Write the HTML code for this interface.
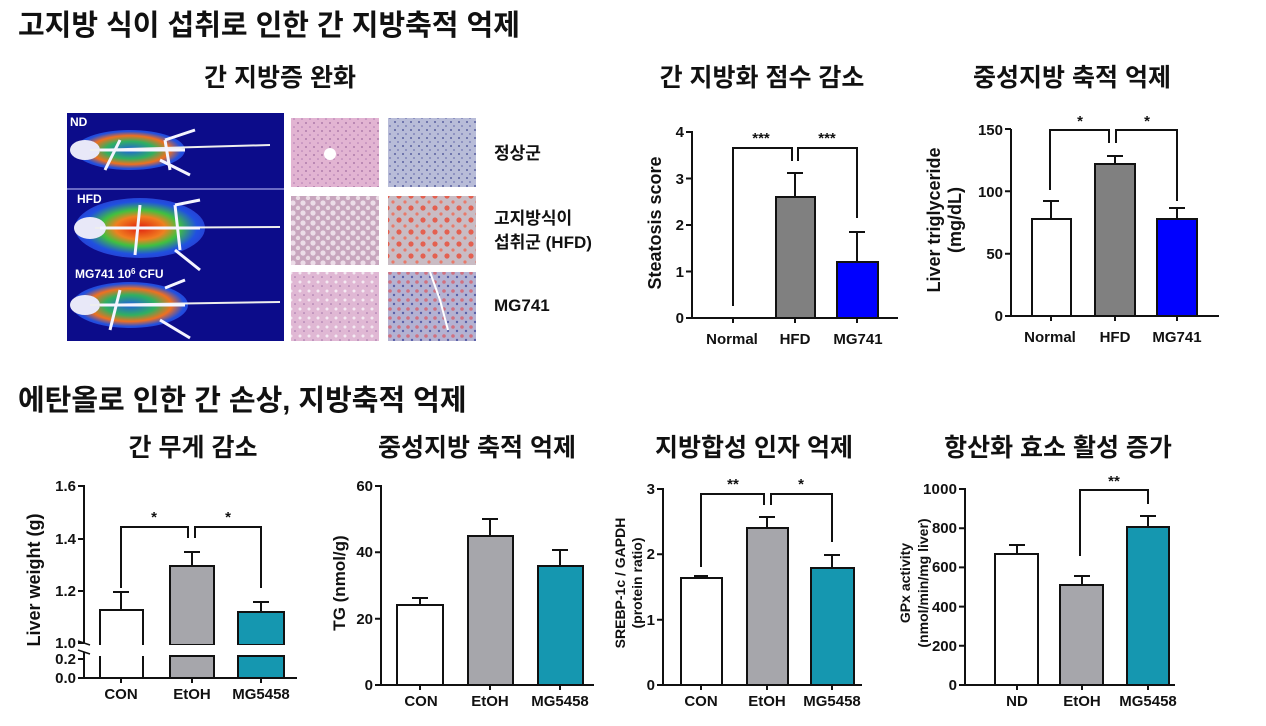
<!DOCTYPE html>
<html><head><meta charset="utf-8">
<style>
html,body{margin:0;padding:0;background:#fff;}
svg{display:block;}
text{font-family:"Liberation Sans","Noto Sans CJK KR",sans-serif;font-weight:bold;fill:#111;}
.t{font-size:29px;}
.s{font-size:25px;}
.k{font-size:15px;}
.l{font-size:17px;}
.m{font-size:12px;fill:#fff;}
.h{font-size:17px;}
</style></head>
<body>
<svg width="1266" height="726" viewBox="0 0 1266 726" xmlns="http://www.w3.org/2000/svg">
<defs>
<radialGradient id="heat" cx="50%" cy="50%" r="55%">
<stop offset="0" stop-color="#e02010"/><stop offset="0.35" stop-color="#f08020"/><stop offset="0.55" stop-color="#40c040"/><stop offset="0.8" stop-color="#2050e0"/><stop offset="1" stop-color="#2a3ad0"/>
</radialGradient>
<radialGradient id="heat2" cx="50%" cy="50%" r="55%">
<stop offset="0" stop-color="#2060e0"/><stop offset="0.4" stop-color="#30b060"/><stop offset="0.65" stop-color="#f07020"/><stop offset="0.85" stop-color="#2050e0"/><stop offset="1" stop-color="#2a3ad0"/>
</radialGradient>
<pattern id="he" width="8" height="8" patternUnits="userSpaceOnUse"><rect width="8" height="8" fill="#e2b4d2"/><circle cx="2" cy="3" r="0.9" fill="#a06aa0"/><circle cx="6" cy="7" r="0.8" fill="#b07ab0"/></pattern>
<pattern id="ho" width="8" height="8" patternUnits="userSpaceOnUse"><rect width="8" height="8" fill="#b8bcd8"/><circle cx="3" cy="2" r="1" fill="#5a60a0"/><circle cx="6" cy="6" r="0.9" fill="#7074b0"/></pattern>
<pattern id="hf" width="10" height="10" patternUnits="userSpaceOnUse"><rect width="10" height="10" fill="#c8a6be"/><circle cx="3" cy="3" r="2.6" fill="#ecdde8"/><circle cx="8" cy="8" r="2.2" fill="#eadbe4"/></pattern>
<pattern id="hr" width="12" height="12" patternUnits="userSpaceOnUse"><rect width="12" height="12" fill="#c9bcc4"/><circle cx="3" cy="4" r="2.6" fill="#e46050"/><circle cx="9" cy="10" r="1.6" fill="#e87a6a"/></pattern>
<pattern id="hm" width="9" height="9" patternUnits="userSpaceOnUse"><rect width="9" height="9" fill="#e0b8d4"/><circle cx="3" cy="3" r="1.5" fill="#f4eaf2"/><circle cx="7" cy="7" r="0.8" fill="#a070a8"/></pattern>
<pattern id="hx" width="9" height="9" patternUnits="userSpaceOnUse"><rect width="9" height="9" fill="#b4b2d2"/><circle cx="3" cy="3" r="1.8" fill="#d07080"/><circle cx="7" cy="7" r="1.2" fill="#5a60a8"/></pattern>
</defs>

<!-- Titles -->
<text class="t" x="18" y="35">고지방 식이 섭취로 인한 간 지방축적 억제</text>
<text class="s" x="280" y="86" text-anchor="middle">간 지방증 완화</text>
<text class="s" x="762" y="86" text-anchor="middle">간 지방화 점수 감소</text>
<text class="s" x="1072" y="86" text-anchor="middle">중성지방 축적 억제</text>
<text class="t" x="18" y="410">에탄올로 인한 간 손상, 지방축적 억제</text>
<text class="s" x="193" y="456" text-anchor="middle">간 무게 감소</text>
<text class="s" x="477" y="456" text-anchor="middle">중성지방 축적 억제</text>
<text class="s" x="754" y="456" text-anchor="middle">지방합성 인자 억제</text>
<text class="s" x="1058" y="456" text-anchor="middle">항산화 효소 활성 증가</text>

<!-- Mouse panel -->
<rect x="67" y="113" width="217" height="228" fill="#0c0c8a"/>
<line x1="67" y1="189" x2="284" y2="189" stroke="#8a8ad8" stroke-width="1.5"/>
<g>
<ellipse cx="130" cy="150" rx="55" ry="20" fill="url(#heat2)"/>
<ellipse cx="85" cy="150" rx="15" ry="10" fill="#e8e8f8"/>
<path d="M90 150 L270 145" stroke="#eee" stroke-width="2"/>
<path d="M100 150 H185 M120 140 L105 170 M165 140 L170 170 M165 140 L195 130 M160 160 L190 175" stroke="#f4f4ff" stroke-width="3" fill="none"/>
</g>
<g>
<ellipse cx="140" cy="228" rx="65" ry="30" fill="url(#heat)"/>
<ellipse cx="90" cy="228" rx="16" ry="11" fill="#e8e8f8"/>
<path d="M95 228 L280 227" stroke="#eee" stroke-width="2"/>
<path d="M100 228 H200 M140 205 L135 255 M175 205 L180 250 M175 205 L200 200 M175 250 L200 270" stroke="#f4f4ff" stroke-width="3" fill="none"/>
</g>
<g>
<ellipse cx="130" cy="305" rx="58" ry="23" fill="url(#heat2)"/>
<ellipse cx="85" cy="305" rx="15" ry="10" fill="#e8e8f8"/>
<path d="M90 305 L280 302" stroke="#eee" stroke-width="2"/>
<path d="M100 305 H185 M120 290 L110 330 M165 288 L185 280 M160 320 L190 338" stroke="#f4f4ff" stroke-width="3" fill="none"/>
</g>
<text class="m" x="70" y="126">ND</text>
<text class="m" x="77" y="203">HFD</text>
<text class="m" x="75" y="278">MG741 10<tspan font-size="8" dy="-4">6</tspan><tspan dy="4"> CFU</tspan></text>

<!-- Histology -->
<rect x="291" y="118" width="88" height="69" fill="url(#he)"/>
<ellipse cx="330" cy="154" rx="6" ry="6" fill="#fff"/>
<rect x="388" y="118" width="88" height="69" fill="url(#ho)"/>
<rect x="291" y="196" width="88" height="69" fill="url(#hf)"/>
<rect x="388" y="196" width="88" height="69" fill="url(#hr)"/>
<rect x="291" y="272" width="88" height="69" fill="url(#hm)"/>
<rect x="388" y="272" width="88" height="69" fill="url(#hx)"/>
<path d="M430 272 L440 300 L448 330" stroke="#fff" stroke-width="2" fill="none"/>
<text class="h" x="494" y="159">정상군</text>
<text class="h" x="494" y="224">고지방식이</text>
<text class="h" x="494" y="248">섭취군 (HFD)</text>
<text class="h" x="494" y="311">MG741</text>

<g stroke="#111" stroke-width="2" fill="none">
<path d="M692 131 V318 H898"/>
<path d="M686 132H692M686 178.5H692M686 225H692M686 271.5H692M686 318H692"/>
<path d="M733 318v5M795 318v5M857 318v5"/>
<rect x="776" y="197" width="39" height="121" fill="#808080"/>
<path d="M795 197V173M787 173H803"/>
<rect x="837" y="262" width="41" height="56" fill="#0000ff"/>
<path d="M857 262V232M849 232H865"/>
<path d="M733 306V148H792V161M798 161V148H857V218"/>

<path d="M1011 129 V316 H1219"/>
<path d="M1005 129H1011M1005 191.3H1011M1005 253.7H1011M1005 316H1011"/>
<path d="M1051 316v5M1115 316v5M1177 316v5"/>
<rect x="1032" y="219" width="39" height="97" fill="#fff"/>
<path d="M1051 219V201M1043 201H1059"/>
<rect x="1095" y="164" width="40" height="152" fill="#808080"/>
<path d="M1115 164V156M1107 156H1123"/>
<rect x="1157" y="219" width="40" height="97" fill="#0000ff"/>
<path d="M1177 219V208M1169 208H1185"/>
<path d="M1050 190V130H1109V143M1116 143V130H1177V201"/>

<path d="M84 485V643M84 652V678H297"/>
<path d="M78 486H84M78 539H84M78 591H84M78 643H84M78 659H84M78 678H84"/>
<path d="M121 678v5M192 678v5M261 678v5"/>
<path d="M100 645V610H143V645M100 656V678M143 656V678" fill="none"/>
<path d="M121 610V592M113 592H129"/>
<rect x="170" y="566" width="44" height="79" fill="#a6a6ab"/>
<rect x="170" y="656" width="44" height="22" fill="#a6a6ab"/>
<path d="M192 566V552M184 552H200"/>
<rect x="238" y="612" width="46" height="33" fill="#1597b0"/>
<rect x="238" y="656" width="46" height="22" fill="#1597b0"/>
<path d="M261 612V602M253 602H269"/>
<path d="M121 588V527H188V538M195 538V527H261V588"/>

<path d="M381 485V685H594"/>
<path d="M375 486H381M375 552.3H381M375 618.7H381M375 685H381"/>
<path d="M420 685v5M490 685v5M560 685v5"/>
<rect x="397" y="605" width="46" height="80" fill="#fff"/>
<path d="M420 605V598M412 598H428"/>
<rect x="468" y="536" width="45" height="149" fill="#a6a6ab"/>
<path d="M490 536V519M482 519H498"/>
<rect x="538" y="566" width="45" height="119" fill="#1597b0"/>
<path d="M560 566V550M552 550H568"/>

<path d="M663 488V685H862"/>
<path d="M657 489H663M657 554.3H663M657 619.7H663M657 685H663"/>
<path d="M701 685v5M767 685v5M832 685v5"/>
<rect x="681" y="578" width="41" height="107" fill="#fff"/>
<path d="M701 578V576M694 576H708"/>
<rect x="747" y="528" width="41" height="157" fill="#a6a6ab"/>
<path d="M767 528V517M759 517H775"/>
<rect x="811" y="568" width="43" height="117" fill="#1597b0"/>
<path d="M832 568V555M824 555H840"/>
<path d="M701 567V494H764V505M771 505V494H832V542"/>

<path d="M965 488V685H1175"/>
<path d="M959 489H965M959 528.2H965M959 567.4H965M959 606.6H965M959 645.8H965M959 685H965"/>
<path d="M1017 685v5M1082 685v5M1148 685v5"/>
<rect x="995" y="554" width="43" height="131" fill="#fff"/>
<path d="M1017 554V545M1009 545H1025"/>
<rect x="1060" y="585" width="43" height="100" fill="#a6a6ab"/>
<path d="M1082 585V576M1074 576H1090"/>
<rect x="1127" y="527" width="42" height="158" fill="#1597b0"/>
<path d="M1148 527V516M1140 516H1156"/>
<path d="M1080 556V490H1148V504"/>
</g>
<rect x="95" y="645" width="195" height="10" fill="#fff"/>
<path d="M78 641 L90 645 M78 650 L90 654" stroke="#111" stroke-width="1.5"/>

<g class="k" text-anchor="end">
<text x="684" y="137">4</text><text x="684" y="184">3</text><text x="684" y="230">2</text><text x="684" y="277">1</text><text x="684" y="323">0</text>
<text x="1003" y="135">150</text><text x="1003" y="197">100</text><text x="1003" y="259">50</text><text x="1003" y="321">0</text>
<text x="76" y="491">1.6</text><text x="76" y="544">1.4</text><text x="76" y="596">1.2</text><text x="76" y="648">1.0</text><text x="76" y="664">0.2</text><text x="76" y="683">0.0</text>
<text x="373" y="491">60</text><text x="373" y="557">40</text><text x="373" y="624">20</text><text x="373" y="690">0</text>
<text x="655" y="494">3</text><text x="655" y="559">2</text><text x="655" y="625">1</text><text x="655" y="690">0</text>
<text x="957" y="494" textLength="34">1000</text><text x="957" y="533">800</text><text x="957" y="572">600</text><text x="957" y="612">400</text><text x="957" y="651">200</text><text x="957" y="690">0</text>
</g>
<g class="k" text-anchor="middle">
<text x="732" y="344">Normal</text><text x="795" y="344">HFD</text><text x="858" y="344">MG741</text>
<text x="1050" y="342">Normal</text><text x="1115" y="342">HFD</text><text x="1177" y="342">MG741</text>
<text x="121" y="699">CON</text><text x="192" y="699">EtOH</text><text x="261" y="699">MG5458</text>
<text x="421" y="706">CON</text><text x="490" y="706">EtOH</text><text x="560" y="706">MG5458</text>
<text x="701" y="706">CON</text><text x="767" y="706">EtOH</text><text x="832" y="706">MG5458</text>
<text x="1017" y="706">ND</text><text x="1082" y="706">EtOH</text><text x="1148" y="706">MG5458</text>
<text x="761" y="143">***</text><text x="827" y="143">***</text>
<text x="1080" y="126">*</text><text x="1147" y="126">*</text>
<text x="154" y="522">*</text><text x="228" y="522">*</text>
<text x="733" y="489">**</text><text x="801" y="489">*</text>
<text x="1114" y="486">**</text>
</g>
<g class="l" text-anchor="middle">
<text font-size="18" transform="translate(661,223) rotate(-90)">Steatosis score</text>
<text font-size="18" transform="translate(940,220) rotate(-90)">Liver triglyceride</text>
<text font-size="18" transform="translate(961,220) rotate(-90)">(mg/dL)</text>
<text font-size="18" transform="translate(40,580) rotate(-90)">Liver weight (g)</text>
<text transform="translate(345,583) rotate(-90)">TG (nmol/g)</text>
<text font-size="14" transform="translate(625,583) rotate(-90)">SREBP-1c / GAPDH</text>
<text font-size="14" transform="translate(642,583) rotate(-90)">(protein ratio)</text>
<text font-size="14" transform="translate(910,583) rotate(-90)">GPx activity</text>
<text font-size="14" transform="translate(928,583) rotate(-90)">(nmol/min/mg liver)</text>
</g>
</svg>
</body></html>
